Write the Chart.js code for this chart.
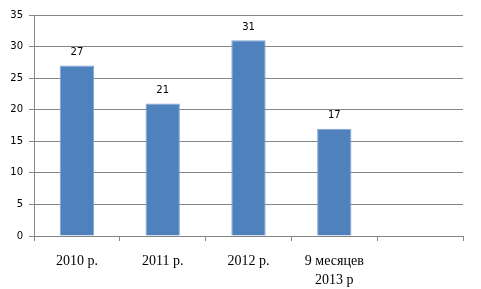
<!DOCTYPE html>
<html>
<head>
<meta charset="utf-8">
<script src="https://cdn.jsdelivr.net/npm/chart.js@4"></script>
<style>
  html, body { margin: 0; padding: 0; background: #fff; }
  #wrap { width: 481px; height: 289px; }
</style>
</head>
<body>
<div id="wrap"><canvas id="chart" width="481" height="289"></canvas></div>
<script>
// Data
const categories = ['2010 р.', '2011 р.', '2012 р.', ['9 месяцев', '2013 р'], ''];
const values = [27, 21, 31, 17, null];
const yTicks = [0, 5, 10, 15, 20, 25, 30, 35];

const barBlue = '#4F81BD';
const gridGray = '#868686';

// draws the value above every bar
const valueLabels = {
    id: 'valueLabels',
    afterDatasetsDraw(chart) {
        const ctx = chart.ctx;
        const meta = chart.getDatasetMeta(0);
        ctx.save();
        ctx.font = '10px "DejaVu Sans", sans-serif';
        ctx.fillStyle = '#000';
        ctx.textAlign = 'center';
        ctx.textBaseline = 'middle';
        meta.data.forEach((bar, i) => {
            if (values[i] == null) return;
            ctx.fillText(String(values[i]), bar.x, bar.y - 13);
        });
        ctx.restore();
    }
};

new Chart(document.getElementById('chart'), {
    type: 'bar',
    data: {
        labels: categories,
        datasets: [{
            data: values,
            backgroundColor: barBlue,
            borderColor: '#7FA3D1',
            borderWidth: 1,
            barPercentage: 0.8,
            categoryPercentage: 0.5
        }]
    },
    options: {
        responsive: false,
        animation: false,
        layout: { padding: { left: 0, top: 15, right: 18, bottom: 0 } },
        plugins: {
            legend: { display: false },
            tooltip: { enabled: false }
        },
        scales: {
            y: {
                min: 0,
                max: 35,
                afterFit(scale) { scale.width = 34; },
                afterBuildTicks(scale) { scale.ticks = yTicks.map(v => ({ value: v })); },
                grid: { color: gridGray, tickLength: 5, lineWidth: 1 },
                border: { display: true, color: gridGray },
                ticks: {
                    color: '#000',
                    padding: 6,
                    font: { family: '"DejaVu Sans", sans-serif', size: 10 }
                }
            },
            x: {
                afterFit(scale) { scale.height = 53; },
                grid: { display: true, drawOnChartArea: false, drawTicks: true, tickLength: 5, color: gridGray, offset: true },
                border: { display: true, color: gridGray },
                ticks: {
                    color: '#000',
                    padding: 11,
                    maxRotation: 0,
                    autoSkip: false,
                    font: { family: '"Liberation Serif", serif', size: 14, lineHeight: 1.35 }
                }
            }
        }
    },
    plugins: [valueLabels]
});
</script>
</body>
</html>
